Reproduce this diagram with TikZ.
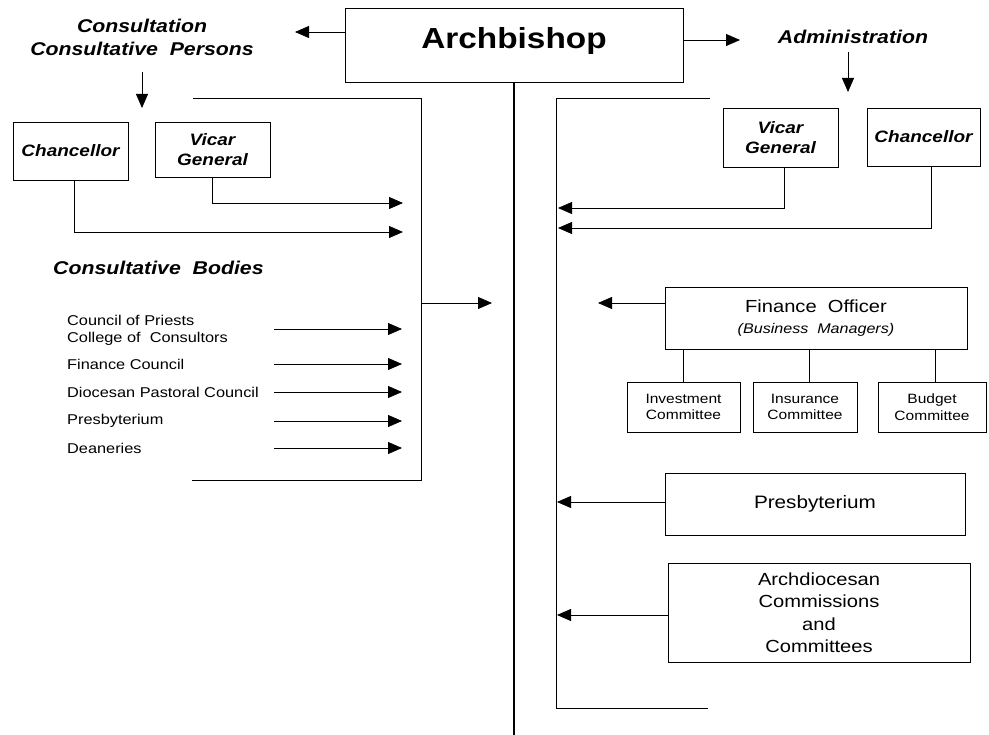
\documentclass[tikz,border=0pt]{standalone}
\usepackage{fontspec}
\setmainfont{Liberation Sans}
\newfontfamily\hv[FakeStretch=1.15]{Liberation Sans}
\usetikzlibrary{arrows.meta}
\tikzset{
  box/.style={draw, line width=0.9pt, inner sep=0pt, align=center},
  arr/.style={-{Triangle[length=14pt,width=12pt]}, line width=0.8pt},
  ln/.style={line width=0.8pt},
  hd/.style={font=\hv\bfseries\itshape\fontsize{18.5}{23}\selectfont},
  bxt/.style={font=\hv\bfseries\itshape\fontsize{16.5}{20}\selectfont},
  lst/.style={font=\hv\fontsize{14.2}{17}\selectfont, align=left, anchor=west, inner sep=0pt},
  mid/.style={font=\hv\fontsize{17.5}{22.5}\selectfont},
  sml/.style={font=\hv\fontsize{13.5}{16.5}\selectfont}
}
\begin{document}
\begin{tikzpicture}[x=1pt,y=-1pt]
\useasboundingbox (0,0) rectangle (989,735);
% top
\node[box, minimum width=338pt, minimum height=74pt, text depth=14pt,
      font=\hv\bfseries\fontsize{29}{32}\selectfont] (arch) at (514,45) {Archbishop};
\node[hd, align=center] (cons) at (142,37) {Consultation\\Consultative\ \ Persons};
\node[hd] (admin) at (853,37) {Administration};
\coordinate (lt) at (295,32);
\coordinate (rt) at (740,40);
\draw[arr] (arch.west |- lt) -- (lt);
\draw[arr] (arch.east |- rt) -- (rt);
\coordinate (consdown) at (142,108);
\draw[arr] (142,72) -- (consdown);
\coordinate (admdown) at (848,92);
\draw[arr] (848,52) -- (admdown);
% central line
\coordinate (bot) at (513,735);
\draw[line width=1.4pt] (arch.south) -- (arch.south |- bot);
% left bracket
\coordinate (lb1) at (193,98);
\coordinate (lb2) at (421,98);
\coordinate (lb3) at (421,480);
\coordinate (lb4) at (192,480);
\draw[ln] (lb1) -- (lb2) -- (lb3) -- (lb4);
\coordinate (lbm) at (421,303);
\coordinate (lbt) at (492,303);
\draw[arr] (lbm) -- (lbt);
% left boxes
\node[box, bxt, minimum width=115pt, minimum height=58pt] (chL) at (70.5,151) {Chancellor};
\node[box, bxt, minimum width=115pt, minimum height=55pt] (vgL) at (212.5,149.5) {Vicar\\General};
\coordinate (vgLend) at (403,203);
\coordinate (chLend) at (403,232);
\draw[arr] (vgL.south) |- (vgLend);
\draw[arr] ([xshift=3.5pt]chL.south) |- (chLend);
\node[hd, anchor=west, inner sep=0pt] (cb) at (53,268) {Consultative\ \ Bodies};
\coordinate (ax) at (274,0);
\coordinate (bx) at (402,0);
\node[lst] (l1) at (67,330.5) {Council of Priests\\College of\ \ Consultors};
\node[lst] (l2) at (67,364) {Finance Council};
\node[lst] (l3) at (67,392) {Diocesan Pastoral Council};
\node[lst] (l4) at (67,421) {Presbyterium};
\node[lst] (l5) at (67,448) {Deaneries};
\draw[arr] (ax |- 0,329) -- (bx |- 0,329);
\foreach \n in {l2,l3,l4,l5}{
  \draw[arr] (ax |- \n.east) -- (bx |- \n.east);
}
% right bracket
\coordinate (rb1) at (710,98);
\coordinate (rb2) at (556,98);
\coordinate (rb3) at (556,708);
\coordinate (rb4) at (708,708);
\draw[ln] (rb1) -- (rb2) -- (rb3) -- (rb4);
% right boxes
\node[box, bxt, minimum width=115pt, minimum height=59pt] (vgR) at (780.5,137.5) {Vicar\\General};
\node[box, bxt, minimum width=113pt, minimum height=58pt] (chR) at (923.5,137) {Chancellor};
\coordinate (vgRend) at (558,208);
\coordinate (chRend) at (558,228);
\draw[arr] ([xshift=3.5pt]vgR.south) |- (vgRend);
\draw[arr] ([xshift=7.5pt]chR.south) |- (chRend);
% finance
\node[box, mid, minimum width=302pt, minimum height=62pt] (fo) at (816,318)
  {Finance\ \ Officer\\[-2pt]{\itshape\fontsize{14}{17}\selectfont (Business\ \ Managers)}};
\coordinate (foarr) at (598,303);
\draw[arr] (fo.west |- foarr) -- (foarr);
\node[box, sml, minimum width=113pt, minimum height=50pt] (inv) at (683.5,407) {Investment\\Committee};
\node[box, sml, minimum width=104pt, minimum height=50pt] (ins) at (805,407) {Insurance\\Committee};
\node[box, sml, minimum width=108pt, minimum height=50pt] (bud) at (932,407) {Budget\\Committee};
\draw[ln] (inv.north |- fo.south) -- (inv.north);
\draw[ln] ([xshift=4pt]ins.north |- fo.south) -- ([xshift=4pt]ins.north);
\draw[ln] ([xshift=3pt]bud.north |- fo.south) -- ([xshift=3pt]bud.north);
% presbyterium
\node[box, font=\hv\fontsize{18}{22}\selectfont, minimum width=300pt, minimum height=62pt] (pr) at (815,504) {Presbyterium};
\coordinate (prarr) at (557,502);
\draw[arr] (pr.west |- prarr) -- (prarr);
\node[box, mid, minimum width=302pt, minimum height=99pt] (ac) at (819,612.5)
  {Archdiocesan\\Commissions\\and\\Committees};
\coordinate (acarr) at (557,615);
\draw[arr] (ac.west |- acarr) -- (acarr);
\end{tikzpicture}
\end{document}
